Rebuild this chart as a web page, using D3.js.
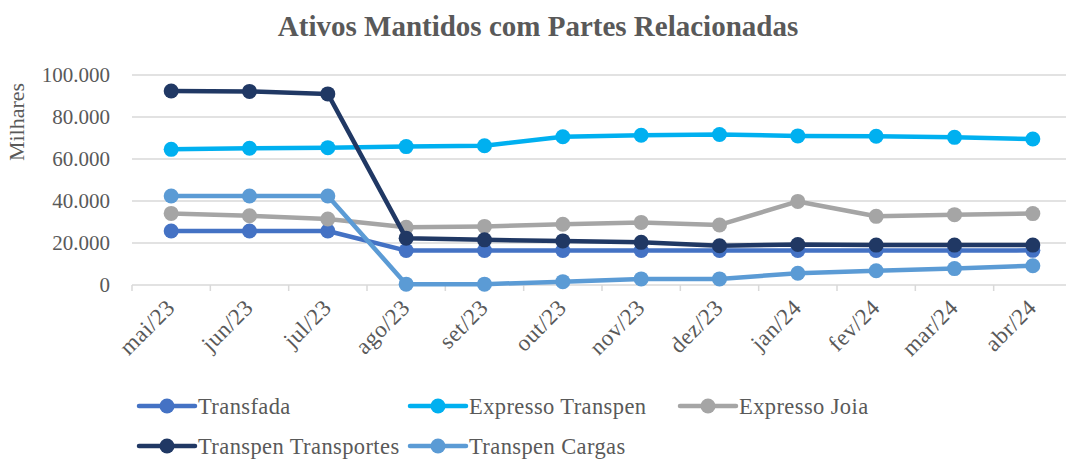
<!DOCTYPE html>
<html>
<head>
<meta charset="utf-8">
<script src="https://cdn.jsdelivr.net/npm/d3@7"></script>
<style>
    body { margin: 0; background: #fff; }
    svg { display: block; font-family: 'Liberation Serif', 'DejaVu Serif', serif; }
</style>
</head>
<body>
<div id="chart"></div>
<script>
const months = ['mai/23', 'jun/23', 'jul/23', 'ago/23', 'set/23', 'out/23',
    'nov/23', 'dez/23', 'jan/24', 'fev/24', 'mar/24', 'abr/24'];

const transfada = [25700, 25700, 25700, 16400, 16400, 16400, 16400, 16400, 16400, 16400, 16400, 16500];
const expressoTranspen = [64600, 65100, 65400, 65900, 66300, 70600, 71300, 71700, 71000, 70800, 70300, 69500];
const expressoJoia = [34100, 33000, 31400, 27500, 27900, 28900, 29800, 28600, 39800, 32700, 33500, 34000];
const transpenTransportes = [92400, 92200, 91000, 22300, 21500, 21000, 20300, 18700, 19300, 19000, 19000, 19000];
const transpenCargas = [42400, 42400, 42400, 400, 400, 1600, 2900, 2900, 5600, 6800, 7800, 9200];

const yTicks = [0, 20000, 40000, 60000, 80000, 100000];

const series = [
    { name: 'Transfada', values: transfada, color: '#4472C4' },
    { name: 'Expresso Transpen', values: expressoTranspen, color: '#00B0F0' },
    { name: 'Expresso Joia', values: expressoJoia, color: '#A5A5A5' },
    { name: 'Transpen Transportes', values: transpenTransportes, color: '#203864' },
    { name: 'Transpen Cargas', values: transpenCargas, color: '#5B9BD5' },
];

const W = 1066, H = 460;
const textColor = '#595959';
const fmt = d3.format(',.0f');
const ptBR = v => fmt(v).replace(/,/g, '.');

const svg = d3.select('#chart').append('svg')
    .attr('width', W)
    .attr('height', H);

const x = d3.scaleBand()
    .domain(months)
    .range([132, 1072])
    .padding(0);
const y = d3.scaleLinear()
    .domain([0, 100000])
    .range([285, 75]);
const cx = m => x(m) + x.bandwidth() / 2;

// title
svg.append('text')
    .attr('x', 538)
    .attr('y', 36)
    .attr('text-anchor', 'middle')
    .attr('font-size', 29)
    .attr('font-weight', 'bold')
    .attr('fill', textColor)
    .text('Ativos Mantidos com Partes Relacionadas');

// gridlines
svg.append('g')
    .selectAll('line')
    .data(yTicks.filter(d => d > 0))
    .join('line')
    .attr('x1', 132)
    .attr('x2', 1072)
    .attr('y1', d => y(d))
    .attr('y2', d => y(d))
    .attr('stroke', '#d9d9d9')
    .attr('stroke-width', 1.5);

// y axis
const yAxis = d3.axisLeft(y)
    .tickValues(yTicks)
    .tickSize(0)
    .tickPadding(22)
    .tickFormat(ptBR);
svg.append('g')
    .attr('transform', 'translate(132,0)')
    .call(yAxis)
    .call(g => g.select('.domain').remove())
    .selectAll('text')
    .attr('font-family', "'Liberation Serif', serif")
    .attr('font-size', 21)
    .attr('fill', textColor);

svg.append('text')
    .attr('transform', 'translate(24,122) rotate(-90)')
    .attr('text-anchor', 'middle')
    .attr('font-size', 22)
    .attr('fill', textColor)
    .text('Milhares');

// x axis
const xAxisG = svg.append('g')
    .attr('transform', 'translate(0,285)');
xAxisG.append('line')
    .attr('x1', 132)
    .attr('x2', 1072)
    .attr('stroke', '#d9d9d9')
    .attr('stroke-width', 1.5);
xAxisG.selectAll('.tick-mark')
    .data(months)
    .join('line')
    .attr('class', 'tick-mark')
    .attr('x1', d => x(d))
    .attr('x2', d => x(d))
    .attr('y1', 0)
    .attr('y2', 6)
    .attr('stroke', '#d9d9d9')
    .attr('stroke-width', 1.5);
xAxisG.selectAll('.tick-label')
    .data(months)
    .join('text')
    .attr('class', 'tick-label')
    .attr('text-anchor', 'end')
    .attr('font-size', 23)
    .attr('letter-spacing', 0.5)
    .attr('fill', textColor)
    .attr('transform', d => `translate(${cx(d) + 5},${24}) rotate(-45)`)
    .text(d => d);

// lines + markers
const line = d3.line()
    .x((d, i) => cx(months[i]))
    .y(d => y(d));

const seriesG = svg.append('g')
    .selectAll('g')
    .data(series)
    .join('g');
seriesG.append('path')
    .attr('d', d => line(d.values))
    .attr('fill', 'none')
    .attr('stroke', d => d.color)
    .attr('stroke-width', 4.5)
    .attr('stroke-linejoin', 'round');
seriesG.selectAll('circle')
    .data(d => d.values.map((v, i) => ({ v, i, color: d.color })))
    .join('circle')
    .attr('cx', d => cx(months[d.i]))
    .attr('cy', d => y(d.v))
    .attr('r', 7.5)
    .attr('fill', d => d.color);

// legend
const legendPos = [
    [139, 406], [410, 406], [680, 406],
    [139, 446], [410, 446],
];
const legend = svg.append('g')
    .selectAll('g')
    .data(series)
    .join('g')
    .attr('transform', (d, i) => `translate(${legendPos[i]})`);
legend.append('line')
    .attr('x1', 0)
    .attr('x2', 56)
    .attr('stroke', d => d.color)
    .attr('stroke-width', 4.5)
    .attr('stroke-linecap', 'round');
legend.append('circle')
    .attr('cx', 28)
    .attr('r', 7.5)
    .attr('fill', d => d.color);
legend.append('text')
    .attr('x', 59)
    .attr('dy', '0.35em')
    .attr('font-size', 22.5)
    .attr('letter-spacing', 0.4)
    .attr('fill', textColor)
    .text(d => d.name);
</script>
</body>
</html>
